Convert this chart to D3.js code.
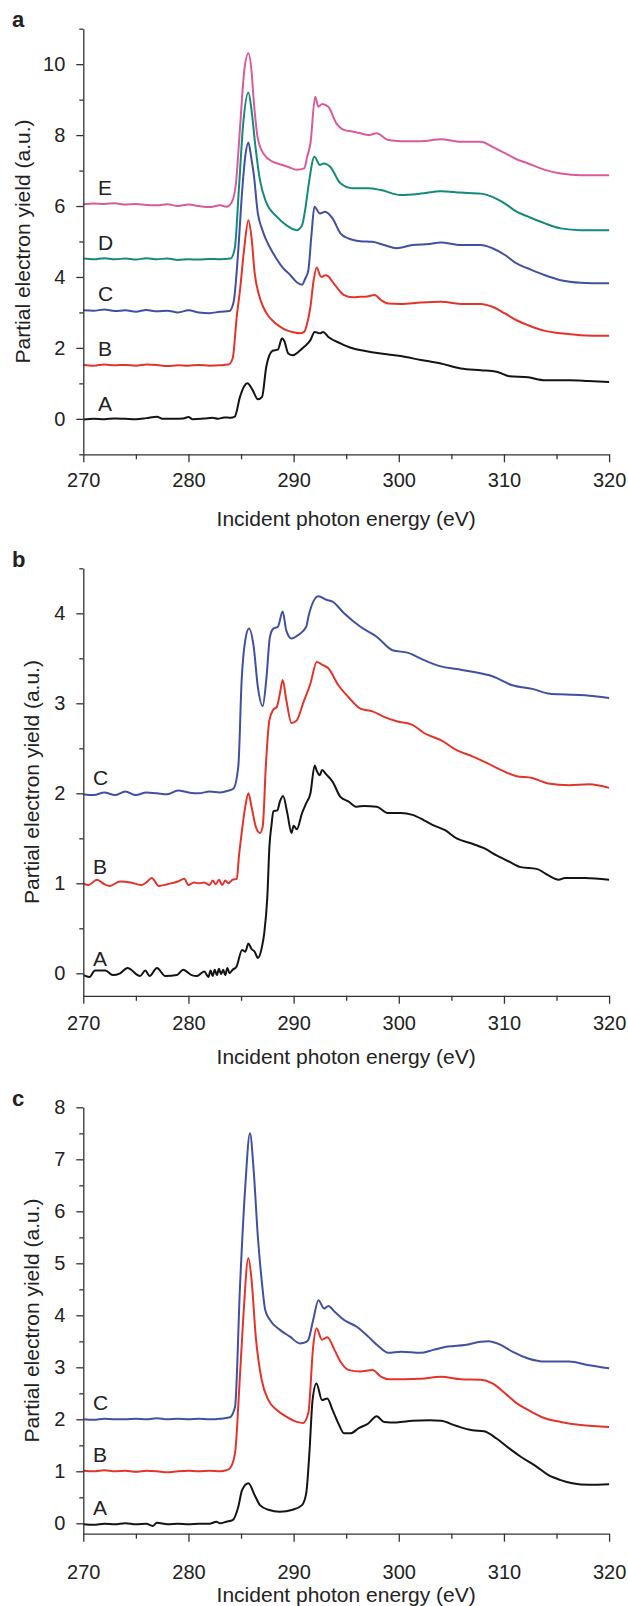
<!DOCTYPE html>
<html>
<head>
<meta charset="utf-8">
<script src="https://cdn.jsdelivr.net/npm/d3@7"></script>
<style>
  body { margin: 0; background: #fff; }
  svg { display: block; }
  text { font-family: "Liberation Sans", Arial, Helvetica, sans-serif; fill: #222; }
</style>
</head>
<body>
<svg id="fig" width="628" height="1606"></svg>
<script>
// spectra, [photon energy (eV), partial electron yield]
// panel a
const aA = [[270,-0.02],[271,0.0],[272,-0.01],[273,0.01],[274,0.0],[275,-0.01],[276,0.02],[277,0.06],[277.6,0.0],[278.5,0.0],[279.5,0.01],[280,0.05],[280.4,-0.01],[281.5,0.01],[282.3,0.03],[282.8,0.0],[283.4,0.04],[284.0,0.03],[284.4,0.06],[284.9,0.62],[285.3,0.92],[285.6,1.0],[286.1,0.81],[286.6,0.55],[287.0,0.62],[287.4,1.47],[288.0,1.92],[288.5,1.95],[288.9,2.27],[289.1,2.2],[289.5,1.84],[289.9,1.79],[290.5,1.9],[291.0,2.03],[291.6,2.22],[292.0,2.45],[292.5,2.41],[292.8,2.45],[293.3,2.31],[294.45,2.13],[295.6,1.99],[296.7,1.92],[298.3,1.84],[300.2,1.77],[302.1,1.66],[304.0,1.56],[305.9,1.42],[307.8,1.37],[309.3,1.33],[310.5,1.2],[312.3,1.17],[313.9,1.09],[316.2,1.09],[318,1.07],[320,1.04]];
const aB = [[270,1.52],[271,1.5],[272,1.53],[273,1.51],[274,1.52],[275,1.5],[276,1.53],[277,1.52],[278,1.49],[279,1.51],[280,1.5],[281,1.52],[282,1.5],[283,1.51],[283.8,1.53],[284.2,1.7],[284.6,2.9],[284.9,3.63],[285.3,4.8],[285.7,5.6],[286.0,5.1],[286.3,4.1],[286.7,3.5],[287.1,3.16],[287.6,2.9],[288.1,2.74],[288.7,2.6],[289.3,2.5],[290.0,2.44],[290.6,2.41],[291.0,2.45],[291.3,2.7],[291.6,3.16],[291.9,3.9],[292.2,4.27],[292.5,4.05],[292.7,4.0],[293.0,4.05],[293.3,4.02],[293.6,3.9],[294.07,3.72],[294.8,3.49],[295.6,3.43],[296.35,3.44],[297.0,3.45],[297.7,3.49],[298.3,3.35],[299.0,3.25],[300.2,3.24],[302.1,3.28],[304.0,3.3],[305.9,3.24],[307.8,3.24],[308.9,3.16],[310.1,2.97],[311.2,2.78],[312.3,2.64],[313.9,2.48],[315.4,2.41],[317.3,2.36],[320,2.34]];
const aC = [[270,3.06],[271,3.05],[272,3.08],[273,3.04],[274,3.06],[275,3.02],[276,3.07],[277,3.03],[278,3.05],[279,3.0],[280,3.06],[281,3.0],[282,2.98],[283,3.02],[283.9,3.04],[284.3,3.3],[284.7,4.6],[285.1,6.4],[285.4,7.4],[285.7,7.79],[286.0,7.3],[286.2,6.92],[286.6,5.79],[287.0,5.35],[287.4,5.04],[288.0,4.7],[288.4,4.5],[289.0,4.25],[289.7,4.05],[290.3,3.85],[290.8,3.78],[291.1,3.95],[291.4,4.19],[291.7,5.2],[291.98,5.98],[292.5,5.79],[293.0,5.84],[293.7,5.65],[294.45,5.23],[295.2,5.09],[296.35,5.01],[297.5,4.99],[298.6,4.9],[299.8,4.81],[301.3,4.9],[302.9,4.93],[304.0,4.97],[305.9,4.9],[307.8,4.9],[308.9,4.81],[310.1,4.62],[311.2,4.38],[312.3,4.24],[313.9,4.05],[315.4,3.91],[317.3,3.84],[320,3.82]];
const aD = [[270,4.52],[271,4.5],[272,4.53],[273,4.5],[274,4.52],[275,4.49],[276,4.53],[277,4.5],[278,4.52],[279,4.48],[280,4.5],[281,4.49],[282,4.51],[283,4.5],[284,4.52],[284.4,4.8],[284.8,6.5],[285.2,8.3],[285.7,9.2],[286.0,8.7],[286.3,7.86],[286.8,6.73],[287.4,6.1],[288.4,5.7],[289.3,5.46],[290.3,5.32],[290.8,5.46],[291.1,5.9],[291.4,6.54],[291.98,7.39],[292.5,7.16],[292.9,7.2],[293.5,7.1],[294.45,6.64],[295.6,6.5],[297.1,6.5],[298.3,6.45],[300.2,6.31],[302.1,6.35],[304.0,6.42],[305.9,6.38],[307.8,6.35],[308.9,6.26],[310.1,6.07],[311.2,5.84],[312.3,5.70],[313.9,5.51],[315.4,5.37],[317.3,5.32],[320,5.32]];
const aE = [[270,6.05],[271,6.07],[272,6.06],[273,6.08],[274,6.04],[275,6.06],[276,6.03],[277,6.02],[278,6.05],[279,6.0],[280,6.04],[281,6.0],[282,5.97],[283,6.02],[283.6,5.98],[284.1,6.1],[284.5,6.6],[284.9,8.2],[285.3,9.8],[285.7,10.31],[286.0,9.8],[286.2,9.0],[286.6,7.9],[287.2,7.45],[288.0,7.25],[288.7,7.18],[289.5,7.1],[290.3,7.02],[291.0,7.06],[291.3,7.4],[291.6,7.77],[292.05,9.08],[292.36,8.8],[292.7,8.88],[293.3,8.8],[294.07,8.33],[294.83,8.14],[295.6,8.1],[296.35,8.05],[297.1,8.0],[297.9,8.05],[299.0,7.86],[300.2,7.83],[302.1,7.83],[304.0,7.88],[305.9,7.81],[307.8,7.81],[308.9,7.67],[310.1,7.49],[311.2,7.32],[312.3,7.2],[313.9,7.02],[315.4,6.92],[317.3,6.87],[320,6.87]];

// panel b
const bA = [[270,-0.02],[270.6,-0.04],[271.1,0.03],[272.1,0.03],[272.8,-0.02],[273.5,0.0],[274.2,0.06],[275.4,-0.03],[275.9,0.03],[276.3,-0.03],[277.0,0.06],[277.8,-0.03],[278.9,-0.02],[279.5,0.04],[280.3,-0.02],[280.8,-0.03],[281.5,0.02],[281.9,-0.04],[282.1,0.03],[282.3,-0.03],[282.5,0.04],[282.7,-0.02],[282.9,0.05],[283.1,-0.01],[283.3,0.04],[283.5,-0.02],[283.7,0.06],[283.9,0.0],[284.2,0.04],[284.55,0.07],[285.1,0.26],[285.4,0.24],[285.7,0.33],[286.0,0.27],[286.3,0.24],[286.6,0.17],[287.0,0.3],[287.2,0.44],[287.5,0.85],[287.7,1.41],[287.9,1.65],[288.07,1.8],[288.45,1.81],[288.7,1.91],[289.0,1.97],[289.4,1.78],[289.8,1.56],[290.0,1.64],[290.3,1.6],[290.8,1.78],[291.2,1.89],[291.6,2.0],[292.0,2.31],[292.2,2.25],[292.5,2.2],[292.7,2.26],[293.1,2.21],[293.7,2.13],[294.45,1.96],[295.2,1.91],[296.0,1.85],[296.7,1.86],[297.9,1.85],[299.0,1.78],[300.2,1.78],[301.3,1.76],[302.4,1.70],[303.2,1.65],[304.4,1.59],[305.5,1.5],[307.0,1.44],[308.1,1.39],[309.3,1.31],[310.5,1.24],[311.6,1.18],[313.1,1.16],[314.2,1.09],[315.2,1.04],[315.8,1.06],[317.7,1.06],[320,1.04]];
const bB = [[270,1.0],[270.5,0.98],[271.3,1.04],[272,0.99],[272.5,0.97],[273.5,1.02],[274.5,1.01],[275.5,0.98],[276,1.01],[276.5,1.06],[277.2,0.97],[278,0.99],[279,1.02],[279.6,1.05],[280,0.98],[280.5,1.01],[281,1.0],[281.5,1.01],[282,0.98],[282.3,1.03],[282.6,0.99],[282.9,1.04],[283.2,0.98],[283.5,1.03],[283.8,1.0],[284.2,1.04],[284.6,1.05],[284.8,1.3],[285.06,1.56],[285.4,1.85],[285.7,2.0],[286.0,1.85],[286.4,1.63],[286.8,1.56],[287.06,1.63],[287.37,2.33],[287.69,2.81],[288.07,2.93],[288.4,2.96],[288.7,3.11],[288.96,3.26],[289.3,3.04],[289.8,2.78],[290.3,2.81],[290.9,3.0],[291.6,3.22],[292.2,3.46],[292.7,3.43],[293.3,3.39],[294.26,3.2],[295.2,3.07],[296.35,2.94],[297.5,2.91],[298.6,2.85],[299.8,2.8],[301.3,2.76],[302.4,2.67],[304.0,2.59],[305.5,2.48],[307.0,2.41],[308.5,2.33],[309.7,2.26],[311.2,2.19],[312.7,2.17],[314.2,2.11],[316.2,2.09],[318.1,2.1],[320,2.06]];
const bC = [[270,1.99],[271,1.98],[272,2.01],[273,1.98],[274,2.02],[275,1.98],[276,2.01],[277,2.0],[278,1.99],[279,2.03],[280,2.01],[281,2.0],[282,2.02],[283,2.01],[283.8,2.03],[284.26,2.05],[284.74,2.3],[285.06,3.26],[285.4,3.70],[285.76,3.83],[286.2,3.63],[286.6,3.18],[287.06,2.97],[287.4,3.26],[287.75,3.74],[288.07,3.83],[288.5,3.85],[288.96,4.02],[289.3,3.81],[289.8,3.72],[290.45,3.76],[291.2,3.85],[291.4,3.96],[292.36,4.19],[293.1,4.15],[293.7,4.13],[294.8,4.0],[296.35,3.85],[297.9,3.74],[299.4,3.59],[300.9,3.56],[302.4,3.48],[304.0,3.41],[305.5,3.38],[307.0,3.35],[308.9,3.30],[310.8,3.2],[312.7,3.16],[314.2,3.11],[315.4,3.1],[317.7,3.09],[320,3.06]];

// panel c
const cA = [[270,-0.02],[271,-0.03],[272,-0.01],[273,-0.02],[274,0.0],[275,-0.02],[276,-0.01],[276.6,-0.05],[277,0.01],[278,-0.02],[279,-0.01],[280,-0.02],[281,-0.01],[282,-0.01],[282.65,0.03],[283,0.0],[283.6,0.03],[284.2,0.06],[284.74,0.32],[285.1,0.64],[285.7,0.77],[286.3,0.54],[286.8,0.35],[287.6,0.26],[288.7,0.22],[289.9,0.26],[290.8,0.35],[291.2,0.58],[291.5,1.35],[291.8,2.37],[292.17,2.69],[292.7,2.37],[293.2,2.40],[293.7,2.18],[294.26,1.92],[294.8,1.73],[295.4,1.73],[296.2,1.83],[297.1,1.92],[297.9,2.06],[298.6,1.95],[299.8,1.94],[301.3,1.97],[302.9,1.98],[304.0,1.97],[305.5,1.87],[307.0,1.79],[308.1,1.77],[309.3,1.63],[310.5,1.44],[311.6,1.28],[313.1,1.09],[314.2,0.93],[315.4,0.83],[316.5,0.77],[318.1,0.74],[320,0.75]];
const cB = [[270,1.01],[271,1.0],[272,1.02],[273,1.0],[274,1.01],[275,0.99],[276,1.01],[277,1.0],[278,0.98],[279,1.0],[280,1.01],[281,1.0],[282,1.01],[283,1.0],[283.6,1.02],[283.95,1.06],[284.43,1.35],[284.84,2.63],[285.2,3.91],[285.7,5.1],[286.0,4.68],[286.4,3.59],[286.96,2.76],[287.6,2.37],[288.4,2.18],[289.3,2.05],[290.3,1.95],[290.9,1.93],[291.4,2.12],[291.86,3.40],[292.17,3.75],[292.7,3.53],[293.2,3.58],[293.9,3.33],[294.45,3.11],[295.2,2.95],[296.35,2.92],[297.5,2.95],[298.3,2.82],[299.0,2.77],[302.1,2.78],[304.0,2.82],[305.9,2.77],[307.8,2.76],[308.9,2.69],[310.1,2.5],[311.2,2.31],[312.3,2.18],[313.9,2.02],[315.4,1.95],[317.3,1.89],[320,1.85]];
const cC = [[270,2.0],[271,1.99],[272,2.01],[273,2.0],[274,2.0],[275,2.01],[276,2.0],[277,2.02],[278,2.0],[279,2.01],[280,2.0],[281,2.01],[282,2.0],[283,2.01],[283.95,2.04],[284.43,2.24],[284.9,4.55],[285.4,6.47],[285.85,7.5],[286.2,6.79],[286.6,5.51],[287.0,4.6],[287.3,4.1],[287.75,3.91],[288.7,3.72],[289.65,3.59],[290.6,3.46],[291.2,3.49],[291.4,3.53],[291.86,3.91],[292.36,4.29],[292.9,4.13],[293.3,4.18],[293.9,4.07],[294.8,3.91],[296.0,3.78],[297.1,3.59],[298.1,3.40],[299.0,3.28],[300.2,3.30],[302.1,3.28],[303.2,3.33],[304.7,3.40],[306.3,3.43],[307.8,3.49],[308.5,3.5],[309.7,3.43],[310.8,3.30],[312.3,3.17],[313.9,3.11],[316.2,3.11],[318.1,3.04],[320,2.98]];

const energyTicks = [270, 280, 290, 300, 310, 320];
const energyMinor = [275, 285, 295, 305, 315];
const aMajor = [0, 2, 4, 6, 8, 10];
const aMinor = [-1, 1, 3, 5, 7, 9, 11];
const bMajor = [0, 1, 2, 3, 4];
const bMinor = [0.5, 1.5, 2.5, 3.5, 4.5];
const cMajor = [0, 1, 2, 3, 4, 5, 6, 7, 8];
const cMinor = [0.5, 1.5, 2.5, 3.5, 4.5, 5.5, 6.5, 7.5];

const colors = { A: '#141414', B: '#e3342b', C: '#4150a0', D: '#148a7b', E: '#d95b9c' };

const panels = [
  { letter: 'a', top: 28.7, bottom: 454.3, yDomain: [-1, 11], major: aMajor, minor: aMinor,
    series: [['A', aA], ['B', aB], ['C', aC], ['D', aD], ['E', aE]],
    labelX: 98, yTitleX: 30, xPad: 10.5, xTitleY: 526 },
  { letter: 'b', top: 568.3, bottom: 995.8, yDomain: [-0.25, 4.5], major: bMajor, minor: bMinor,
    series: [['A', bA], ['B', bB], ['C', bC]],
    labelX: 93, yTitleX: 39, xPad: 12, xTitleY: 1064 },
  { letter: 'c', top: 1107.3, bottom: 1533.7, yDomain: [-0.2, 8], major: cMajor, minor: cMinor,
    series: [['A', cA], ['B', cB], ['C', cC]],
    labelX: 93, yTitleX: 39, xPad: 23, xTitleY: 1602 }
];

const svg = d3.select('#fig');
svg.append('rect').attr('width', 628).attr('height', 1606).attr('fill', '#fff');

const x = d3.scaleLinear().domain([270, 320]).range([83.3, 609.1]);

panels.forEach(function (p) {
  const y = d3.scaleLinear().domain(p.yDomain).range([p.bottom, p.top]);
  const g = svg.append('g');

  // curves
  const line = d3.line()
    .x(function (d) { return x(d[0]); })
    .y(function (d) { return y(d[1]); })
    .curve(d3.curveMonotoneX);
  p.series.forEach(function (s) {
    g.append('path')
      .datum(s[1])
      .attr('fill', 'none')
      .attr('stroke', colors[s[0]])
      .attr('stroke-width', 2)
      .attr('stroke-linejoin', 'round')
      .attr('d', line);
    g.append('text')
      .attr('x', p.labelX)
      .attr('y', y(s[1][0][1]) - 9)
      .attr('font-size', 21)
      .text(s[0]);
  });

  // y axis
  const yMinorAxis = g.append('g').attr('transform', 'translate(' + x(270) + ',0)')
    .call(d3.axisLeft(y).tickValues(p.minor).tickSize(4).tickFormat(''));
  yMinorAxis.select('.domain').remove();
  const yAxis = g.append('g').attr('transform', 'translate(' + x(270) + ',0)')
    .call(d3.axisLeft(y).tickValues(p.major).tickSize(7).tickSizeOuter(0).tickPadding(11)
      .tickFormat(function (d) { return String(d); }));
  yAxis.selectAll('text').attr('font-size', 20).attr('font-family', null).attr('fill', '#222');

  // x axis
  const xMinorAxis = g.append('g').attr('transform', 'translate(0,' + p.bottom + ')')
    .call(d3.axisBottom(x).tickValues(energyMinor).tickSize(5).tickFormat(''));
  xMinorAxis.select('.domain').remove();
  const xAxis = g.append('g').attr('transform', 'translate(0,' + p.bottom + ')')
    .call(d3.axisBottom(x).tickValues(energyTicks).tickSize(8).tickSizeOuter(0).tickPadding(p.xPad)
      .tickFormat(function (d) { return String(d); }));
  xAxis.selectAll('text').attr('font-size', 20).attr('font-family', null).attr('fill', '#222');

  g.selectAll('.domain, .tick line').attr('stroke', '#333').attr('stroke-width', 1.3);

  // titles
  g.append('text')
    .attr('x', 12)
    .attr('y', p.top - 1.5)
    .attr('font-size', 22)
    .attr('font-weight', 'bold')
    .text(p.letter);
  g.append('text')
    .attr('x', x(295))
    .attr('y', p.xTitleY)
    .attr('text-anchor', 'middle')
    .attr('font-size', 21)
    .text('Incident photon energy (eV)');
  g.append('text')
    .attr('transform', 'translate(' + p.yTitleX + ',' + (p.top + p.bottom) / 2 + ') rotate(-90)')
    .attr('text-anchor', 'middle')
    .attr('font-size', 21)
    .text('Partial electron yield (a.u.)');
});
</script>
</body>
</html>
